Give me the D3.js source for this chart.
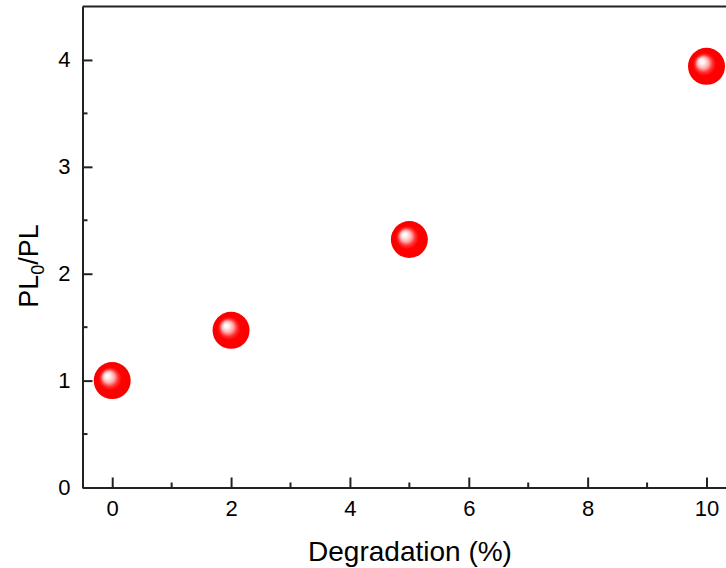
<!DOCTYPE html>
<html>
<head>
<meta charset="utf-8">
<script src="https://cdn.jsdelivr.net/npm/d3@7"></script>
<style>
  html, body { margin: 0; padding: 0; background: #fff; }
  svg { display: block; }
  text { font-family: "Liberation Sans", Arial, sans-serif; fill: #000; }
</style>
</head>
<body>
<svg id="chart" width="726" height="568"></svg>
<script>
// Quenching ratio versus degradation level
const degradation = [0, 2, 5, 10];
const plRatio = [1.0, 1.47, 2.32, 3.94];
const xTicks = [0, 2, 4, 6, 8, 10];
const xMinorTicks = [1, 3, 5, 7, 9];
const yTicks = [0, 1, 2, 3, 4];
const yMinorTicks = [0.5, 1.5, 2.5, 3.5];

const svg = d3.select("#chart");
const plotLeft = 82.5, plotTop = 6.5, plotBottom = 487.5;

const x = d3.scaleLinear().domain([-0.5, 10.5]).range([plotLeft, plotLeft + 624 * 11 / 10.5]);
const y = d3.scaleLinear().domain([0, 4.5]).range([plotBottom, plotTop]);

// Sphere-like shading for the markers
const defs = svg.append("defs");
const grad = defs.append("radialGradient")
  .attr("id", "ball")
  .attr("cx", 0.5).attr("cy", 0.5).attr("r", 0.5)
  .attr("fx", 0.36).attr("fy", 0.36);
[[0, "#ffffff"], [0.12, "#fff4f4"], [0.3, "#ffb0b0"], [0.48, "#ff3030"], [0.62, "#ff0000"], [1, "#fa0000"]]
  .forEach(([o, c]) => grad.append("stop").attr("offset", o).attr("stop-color", c));

// Frame: top border line
svg.append("line")
  .attr("x1", plotLeft).attr("x2", x.range()[1])
  .attr("y1", plotTop).attr("y2", plotTop)
  .attr("stroke", "#222").attr("stroke-width", 2);

// Bottom axis, ticks pointing inward
const xAxis = svg.append("g").attr("transform", `translate(0,${plotBottom})`);
xAxis.call(d3.axisBottom(x).tickValues(xTicks).tickSizeInner(-10).tickSizeOuter(0).tickPadding(13).tickFormat(d3.format("d")));
xAxis.append("g").selectAll("line").data(xMinorTicks).join("line")
  .attr("x1", d => x(d)).attr("x2", d => x(d)).attr("y1", 0).attr("y2", -5)
  .attr("stroke", "#222").attr("stroke-width", 2);

// Left axis, ticks pointing inward
const yAxis = svg.append("g").attr("transform", `translate(${plotLeft},0)`);
yAxis.call(d3.axisLeft(y).tickValues(yTicks).tickSizeInner(-10).tickSizeOuter(0).tickPadding(12).tickFormat(d3.format("d")));
yAxis.append("g").selectAll("line").data(yMinorTicks).join("line")
  .attr("x1", 0).attr("x2", 5).attr("y1", d => y(d)).attr("y2", d => y(d))
  .attr("stroke", "#222").attr("stroke-width", 2);

svg.selectAll(".domain").attr("stroke", "#222").attr("stroke-width", 2);
svg.selectAll(".tick line").attr("stroke", "#222").attr("stroke-width", 2);
svg.selectAll(".tick text")
  .attr("font-size", 22)
  .attr("font-family", "'Liberation Sans', Arial, sans-serif")
  .attr("fill", "#000");

// Axis titles
svg.append("text")
  .attr("x", 410).attr("y", 561)
  .attr("text-anchor", "middle")
  .attr("font-size", 28)
  .text("Degradation (%)");

const yt = svg.append("text")
  .attr("transform", "translate(38,266) rotate(-90)")
  .attr("text-anchor", "middle")
  .attr("font-size", 27);
yt.append("tspan").text("PL");
yt.append("tspan").attr("font-size", 18).attr("dy", 6).text("0");
yt.append("tspan").attr("dy", -6).text("/PL");

// Data markers
svg.append("g").selectAll("circle")
  .data(degradation.map((d, i) => [d, plRatio[i]]))
  .join("circle")
  .attr("cx", d => x(d[0]))
  .attr("cy", d => y(d[1]))
  .attr("r", 18.5)
  .attr("fill", "url(#ball)");
</script>
</body>
</html>
